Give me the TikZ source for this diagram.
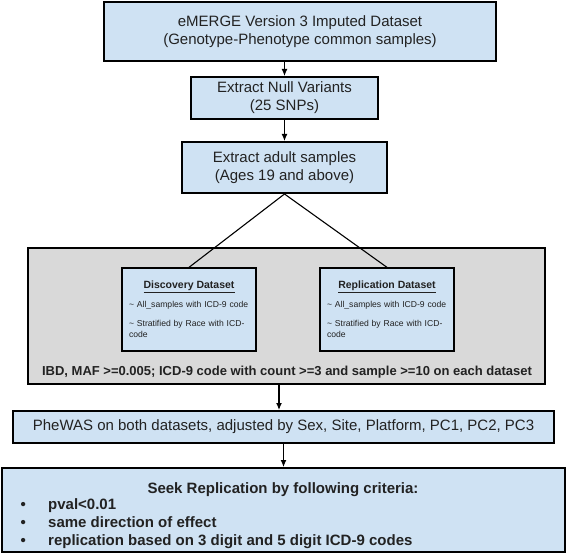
\documentclass[tikz,border=0pt]{standalone}
\usepackage{fontspec}
\setmainfont{Liberation Sans}
\usetikzlibrary{arrows.meta}
\definecolor{boxblue}{HTML}{CFE2F3}
\definecolor{boxgray}{HTML}{D9D9D9}
\definecolor{txt}{HTML}{222222}
\tikzset{
  mainbox/.style={draw=black, line width=2pt, fill=boxblue, inner sep=0pt, align=center,
    text=txt, font=\fontsize{15}{18}\selectfont},
  databox/.style={draw=black, line width=1.3pt, fill=boxblue, inner sep=0pt,
    minimum width=134pt, minimum height=83pt, text width=120pt, text=txt,
    font=\fontsize{8.6}{11}\selectfont},
  graybox/.style={draw=black, line width=2pt, fill=boxgray, inner sep=0pt},
  arr/.style={line width=1.1pt, -{Latex[length=7pt,width=6pt]}},
  conn/.style={line width=1.1pt},
  plain/.style={inner sep=0pt, text=txt},
}
\begin{document}
\begin{tikzpicture}[x=1pt,y=-1pt]
\useasboundingbox (0,0) rectangle (567,553);
\node[mainbox, minimum width=392pt, minimum height=59pt] (top) at (300,31.5)
  {eMERGE Version 3 Imputed Dataset\\(Genotype-Phenotype common samples)};
\node[mainbox, minimum width=187pt, minimum height=42pt] (nullv) at (284.5,98)
  {Extract Null Variants\\(25 SNPs)};
\node[mainbox, minimum width=205pt, minimum height=51pt] (adult) at (284.5,167.5)
  {Extract adult samples\\(Ages 19 and above)};
\node[graybox, minimum width=517pt, minimum height=136pt] (gray) at (286.5,316) {};
\node[databox] (disc) at (189,309.5)
  {{\centering\fontsize{10.5}{12}\selectfont\bfseries\underline{Discovery Dataset}\par}\vspace{8pt}
   \raggedright\textasciitilde{} All\_samples with ICD-9 code\par\vspace{8pt}
   \textasciitilde{} Stratified by Race with ICD-\\code};
\node[databox] (repl) at (387,309.5)
  {{\centering\fontsize{10.5}{12}\selectfont\bfseries\underline{Replication Dataset}\par}\vspace{8pt}
   \raggedright\textasciitilde{} All\_samples with ICD-9 code\par\vspace{8pt}
   \textasciitilde{} Stratified by Race with ICD-\\code};
\node[plain, font=\fontsize{13}{15}\selectfont\bfseries] (ibd) at (287,372)
  {IBD, MAF >=0.005; ICD-9 code with count >=3 and sample >=10 on each dataset};
\node[mainbox, minimum width=541pt, minimum height=32pt] (phewas) at (283.5,427)
  {PheWAS on both datasets, adjusted by Sex, Site, Platform, PC1, PC2, PC3};
\node[mainbox, minimum width=563pt, minimum height=84pt] (final) at (283.5,510) {};
\node[plain, font=\fontsize{15}{18}\selectfont\bfseries] (ftitle) at (283,490)
  {Seek Replication by following criteria:};
\node[plain, anchor=west, font=\fontsize{15}{18}\selectfont\bfseries, text height=11pt, text depth=3pt] (b1) at (20.4,505)
  {\makebox[27.6pt][l]{\textbullet}pval<0.01};
\node[plain, anchor=west, font=\fontsize{15}{18}\selectfont\bfseries, text height=11pt, text depth=3pt] (b2) at (20.4,523)
  {\makebox[27.6pt][l]{\textbullet}same direction of effect};
\node[plain, anchor=west, font=\fontsize{15}{18}\selectfont\bfseries, text height=11pt, text depth=3pt] (b3) at (20.4,541)
  {\makebox[27.6pt][l]{\textbullet}replication based on 3 digit and 5 digit ICD-9 codes};
\draw[arr] (nullv.north |- top.south) -- (nullv.north);
\draw[arr] (nullv.south) -- (adult.north);
\draw[conn] (adult.south) -- (disc.north);
\draw[conn] (adult.south) -- (repl.north);
\coordinate (gout) at ([xshift=-7.5pt]gray.south);
\draw[arr] (gout) -- (gout |- phewas.north);
\draw[arr] (phewas.south) -- (final.north);
\end{tikzpicture}
\end{document}
